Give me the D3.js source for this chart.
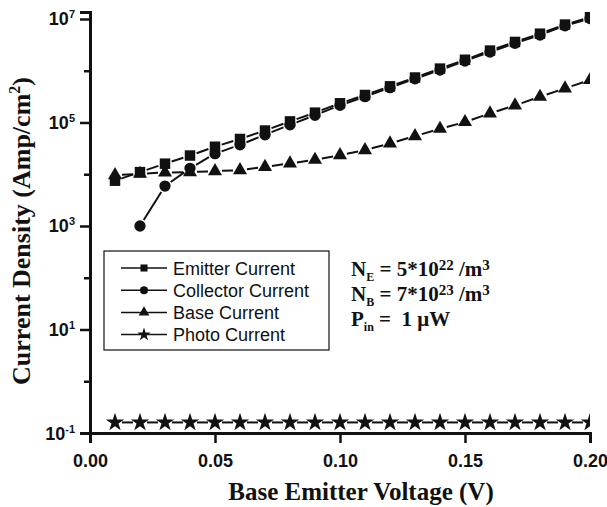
<!DOCTYPE html>
<html>
<head>
<meta charset="utf-8">
<script src="https://cdn.jsdelivr.net/npm/d3@7"></script>
<style>
  body { margin: 0; background: #fff; }
</style>
</head>
<body>
<div id="chart"></div>
<script>
// values
var voltage   = [0.01,0.02,0.03,0.04,0.05,0.06,0.07,0.08,0.09,0.10,0.11,0.12,0.13,0.14,0.15,0.16,0.17,0.18,0.19,0.20];
var emitter   = [7.5e3,1.1e4,1.6e4,2.3e4,3.4e4,4.8e4,7.0e4,1.05e5,1.55e5,2.35e5,3.4e5,5.0e5,7.4e5,1.1e6,1.63e6,2.45e6,3.6e6,5.2e6,7.8e6,1.08e7];
var collector = [null,1.0e3,5.9e3,1.3e4,2.5e4,3.7e4,5.8e4,9.0e4,1.38e5,2.15e5,3.15e5,4.7e5,7.0e5,1.03e6,1.54e6,2.3e6,3.4e6,4.9e6,7.4e6,1.02e7];
var base      = [9.6e3,1.02e4,1.08e4,1.1e4,1.15e4,1.2e4,1.39e4,1.62e4,1.9e4,2.34e4,2.93e4,3.94e4,5.46e4,7.56e4,1.02e5,1.5e5,2.14e5,3.14e5,4.57e5,6.6e5];
var photo     = [0.16,0.16,0.16,0.16,0.16,0.16,0.16,0.16,0.16,0.16,0.16,0.16,0.16,0.16,0.16,0.16,0.16,0.16,0.16,0.16];
var seriesNames = ["Emitter Current","Collector Current","Base Current","Photo Current"];
var xTicks = [0, 0.05, 0.10, 0.15, 0.20];
var yExps  = [-1,0,1,2,3,4,5,6,7];

var W = 607, H = 507;
var plotLeft = 90, plotRight = 590, plotTop = 12, plotBottom = 433;
var ink = "#111";

var svg = d3.select("#chart").append("svg")
  .attr("width", W).attr("height", H)
  .style("background", "#fff");

var x = d3.scaleLinear().domain([0, 0.2]).range([plotLeft, plotRight]);
var y = d3.scaleLog().domain([0.1, Math.pow(10, 7.135)]).range([plotBottom, plotTop]);

// clip for the data
svg.append("defs").append("clipPath").attr("id", "clip")
  .append("rect").attr("x", plotLeft).attr("y", 0)
  .attr("width", plotRight - plotLeft).attr("height", plotBottom);

var plot = svg.append("g").attr("clip-path", "url(#clip)");

var symbols = [d3.symbolSquare, d3.symbolCircle, d3.symbolTriangle, d3.symbolStar];
var symSize = [110, 100, 85, 105];
var allSeries = [emitter, collector, base, photo];

// lines with a small gap around each symbol
var gap = 7;
allSeries.forEach(function(vals, s) {
  var pts = [];
  voltage.forEach(function(v, i) {
    if (vals[i] != null) pts.push([x(v), y(vals[i])]);
  });
  for (var i = 0; i < pts.length - 1; i++) {
    var p0 = pts[i], p1 = pts[i+1];
    var dx = p1[0]-p0[0], dy = p1[1]-p0[1];
    var len = Math.sqrt(dx*dx + dy*dy);
    if (len <= 2*gap) continue;
    var ux = dx/len, uy = dy/len;
    plot.append("line")
      .attr("x1", p0[0] + ux*gap).attr("y1", p0[1] + uy*gap)
      .attr("x2", p1[0] - ux*gap).attr("y2", p1[1] - uy*gap)
      .attr("stroke", ink).attr("stroke-width", 2);
  }
  plot.selectAll(null)
    .data(pts)
    .join("path")
    .attr("d", d3.symbol().type(symbols[s]).size(symSize[s]))
    .attr("transform", function(d) { return "translate(" + d[0] + "," + d[1] + ")"; })
    .attr("fill", ink);
});

// Y axis
var yAxis = svg.append("g")
  .attr("transform", "translate(" + plotLeft + ",0)")
  .call(d3.axisLeft(y)
    .tickValues(yExps.map(function(e) { return Math.pow(10, e); }))
    .tickSizeOuter(0)
    .tickSize(10)
    .tickFormat(""));
yAxis.select(".domain").attr("stroke", ink).attr("stroke-width", 3);
yAxis.selectAll(".tick line")
  .attr("stroke", ink).attr("stroke-width", 2.5)
  .attr("x2", function(d, i) { return (yExps[i] % 2 !== 0) ? -10 : -6; });

// y tick labels with superscripts
yExps.filter(function(e) { return e % 2 !== 0; }).forEach(function(e) {
  var t = svg.append("text")
    .attr("x", 75).attr("y", y(Math.pow(10, e)) + 6.5)
    .attr("text-anchor", "end")
    .style("font-family", "'Liberation Sans', Arial, sans-serif")
    .style("font-weight", "bold")
    .attr("fill", ink);
  t.append("tspan").style("font-size", "18px").text("10");
  t.append("tspan").style("font-size", "11px").attr("dy", -7).text(e);
});

// X axis
var xAxis = svg.append("g")
  .attr("transform", "translate(0," + plotBottom + ")")
  .call(d3.axisBottom(x)
    .tickValues(xTicks)
    .tickSizeOuter(0)
    .tickSize(10)
    .tickPadding(11)
    .tickFormat(d3.format(".2f")));
xAxis.select(".domain").attr("stroke", ink).attr("stroke-width", 3);
xAxis.selectAll(".tick line").attr("stroke", ink).attr("stroke-width", 2.5);
xAxis.selectAll(".tick text")
  .attr("fill", ink)
  .style("font-family", "'Liberation Sans', Arial, sans-serif")
  .style("font-size", "18px")
  .style("font-weight", "bold");

// axis titles
svg.append("text")
  .attr("x", 361).attr("y", 500)
  .attr("text-anchor", "middle")
  .style("font-family", "'Liberation Serif', 'Times New Roman', serif")
  .style("font-size", "25px").style("font-weight", "bold")
  .attr("fill", ink)
  .text("Base Emitter Voltage (V)");

var yt = svg.append("text")
  .attr("transform", "translate(30,231) rotate(-90)")
  .attr("text-anchor", "middle")
  .style("font-family", "'Liberation Serif', 'Times New Roman', serif")
  .style("font-size", "26px").style("font-weight", "bold")
  .attr("fill", ink);
yt.append("tspan").text("Current Density (Amp/cm");
yt.append("tspan").style("font-size", "16px").attr("dy", -10).text("2");
yt.append("tspan").attr("dy", 10).text(")");

// legend
var lg = svg.append("g");
lg.append("rect")
  .attr("x", 104).attr("y", 251).attr("width", 225).attr("height", 99)
  .attr("fill", "#fff").attr("stroke", ink).attr("stroke-width", 1.2);
var legSize = [50, 50, 50, 55];
seriesNames.forEach(function(name, i) {
  var ly = 268 + i * 22.2;
  lg.append("line")
    .attr("x1", 121).attr("x2", 167).attr("y1", ly).attr("y2", ly)
    .attr("stroke", ink).attr("stroke-width", 1.5);
  lg.append("path")
    .attr("d", d3.symbol().type(symbols[i]).size(legSize[i]))
    .attr("transform", "translate(144," + ly + ")")
    .attr("fill", ink);
  lg.append("text")
    .attr("x", 173).attr("y", ly + 6.5)
    .style("font-family", "'Liberation Sans', Arial, sans-serif")
    .style("font-size", "18px")
    .attr("fill", ink)
    .text(name);
});

// parameter notes
function note(yPos, parts) {
  var t = svg.append("text")
    .attr("x", 351).attr("y", yPos)
    .attr("xml:space", "preserve")
    .style("white-space", "pre")
    .style("font-family", "'Liberation Serif', 'Times New Roman', serif")
    .style("font-size", "21px").style("font-weight", "bold")
    .attr("fill", ink);
  var shift = 0;
  parts.forEach(function(p) {
    var want = p[1] === "sub" ? 5 : p[1] === "sup" ? -6 : 0;
    var ts = t.append("tspan").text(p[0]).attr("dy", want - shift);
    if (p[1] !== "n") ts.style("font-size", p[1] === "sub" ? "12px" : "15px");
    shift = want;
  });
}
note(276, [["N","n"],["E","sub"],[" = 5*10","n"],["22","sup"],[" /m","n"],["3","sup"]]);
note(301, [["N","n"],["B","sub"],[" = 7*10","n"],["23","sup"],[" /m","n"],["3","sup"]]);
note(326, [["P","n"],["in","sub"],[" =  1 \u03bcW","n"]]);
</script>
</body>
</html>
